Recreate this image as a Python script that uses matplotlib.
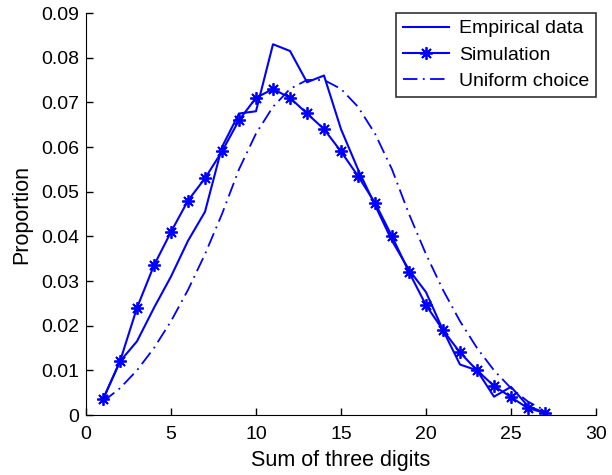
import matplotlib
matplotlib.use('Agg')
import matplotlib.pyplot as plt

plt.rcParams['font.family'] = ['Liberation Sans', 'DejaVu Sans']

sums = list(range(1, 28))
empirical = [0.0035, 0.012, 0.0165, 0.024, 0.031, 0.039, 0.0455, 0.060, 0.0675, 0.068,
             0.083, 0.0815, 0.0745, 0.076, 0.064, 0.055, 0.047, 0.039, 0.0325, 0.0275,
             0.019, 0.0113, 0.010, 0.0041, 0.0063, 0.002, 0.0005]
simulation = [0.0035, 0.012, 0.024, 0.0335, 0.041, 0.048, 0.053, 0.059, 0.066, 0.071,
              0.073, 0.071, 0.0675, 0.064, 0.059, 0.0535, 0.0475, 0.040, 0.032, 0.0246,
              0.019, 0.014, 0.010, 0.0065, 0.004, 0.0015, 0.0005]
uniform = [0.003, 0.006, 0.010, 0.015, 0.021, 0.028, 0.036, 0.045, 0.055, 0.063,
           0.069, 0.073, 0.075, 0.075, 0.073, 0.069, 0.063, 0.055, 0.045, 0.036,
           0.028, 0.021, 0.015, 0.010, 0.006, 0.003, 0.001]

fig = plt.figure(figsize=(6.12, 4.75), dpi=100)
ax = fig.add_axes([86/612, 60/475, 510/612, 402/475])

ax.plot(sums, empirical, color='#0000ff', lw=1.5, label='Empirical data')
ax.plot(sums, simulation, color='#0000ff', lw=1.5, marker=(8, 2, 0), markersize=9,
        markeredgewidth=1.3, label='Simulation')
ax.plot(sums, uniform, color='#0000ff', lw=1.3, linestyle=(0, (8, 3, 1, 3)),
        label='Uniform choice')

ax.set_xlim(0, 30)
ax.set_ylim(0, 0.09)
ax.set_xticks([0, 5, 10, 15, 20, 25, 30])
ax.set_yticks([0, 0.01, 0.02, 0.03, 0.04, 0.05, 0.06, 0.07, 0.08, 0.09])
ax.set_yticklabels(['0', '0.01', '0.02', '0.03', '0.04', '0.05', '0.06', '0.07', '0.08', '0.09'])
ax.spines['top'].set_visible(False)
ax.spines['right'].set_visible(False)
ax.tick_params(direction='in', labelsize=14, length=5, width=1, pad=5)
ax.tick_params(axis='x', pad=8)
ax.set_xlabel('Sum of three digits', fontsize=15.5, labelpad=5)
ax.set_ylabel('Proportion', fontsize=15.5, labelpad=6)

leg = ax.legend(loc='upper right', fontsize=14, frameon=True, fancybox=False,
                borderaxespad=0, borderpad=0.35, handlelength=2.4, handletextpad=0.5,
                labelspacing=0.45)
leg.get_frame().set_edgecolor('black')
leg.get_frame().set_linewidth(1.2)

fig.savefig('out.png', dpi=100)
